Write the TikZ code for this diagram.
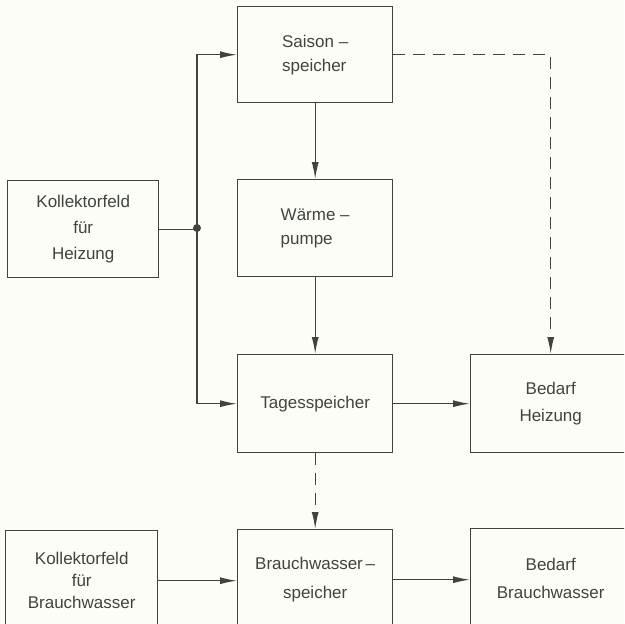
\documentclass[tikz,border=0pt]{standalone}
\usepackage{fontspec}
\setmainfont{Liberation Sans}
\usetikzlibrary{arrows.meta}
\definecolor{ink}{HTML}{3E463C}
\definecolor{paper}{HTML}{FDFDF8}
\begin{document}
\begin{tikzpicture}[x=1pt,y=-1pt,
  box/.style={draw=ink, line width=1.4pt, text=ink, inner sep=0pt, anchor=north west,
              font=\fontsize{17}{24}\selectfont, align=center},
  arr/.style={draw=ink, line width=1.3pt, -{Latex[length=17pt,width=7pt]}},
  ln/.style={draw=ink, line width=1.3pt},
  dsh/.style={dash pattern=on 12pt off 8pt}]
\useasboundingbox (0,0) rectangle (624,624);
\fill[paper] (0,0) rectangle (624,624);
\clip (0,0) rectangle (624,624);

\node[box, minimum width=155pt, minimum height=96pt, align=left] (ss) at (237,6) {Saison –\\speicher};
\node[box, minimum width=155pt, minimum height=97pt, align=left] (wp) at (237,179) {Wärme –\\pumpe};
\node[box, minimum width=155pt, minimum height=98pt] (ts) at (237,354) {Tagesspeicher};
\node[box, minimum width=160pt, minimum height=98pt, font=\fontsize{17}{27}\selectfont] (bh) at (470,354) {Bedarf\\Heizung};
\node[box, minimum width=151pt, minimum height=97pt, font=\fontsize{17}{26}\selectfont] (kh) at (7,180) {Kollektorfeld\\für\\Heizung};
\node[box, minimum width=152pt, minimum height=100pt, font=\fontsize{17}{22}\selectfont] (kb) at (5,530) {Kollektorfeld\\für\\Brauchwasser};
\node[box, minimum width=155pt, minimum height=100pt, font=\fontsize{17}{29}\selectfont] (bw) at (237,529) {Brauchwasser\,–\\speicher};
\node[box, minimum width=160pt, minimum height=100pt, font=\fontsize{17}{28}\selectfont] (bb) at (470,528) {Bedarf\\Brauchwasser};

\coordinate (j) at (197,228);
\draw[ln] (kh.east) -- (kh.east -| j);
\fill[ink] (j) circle (4pt);
\draw[arr] (j) |- (ss.west);
\draw[arr] (j) |- (ts.west);
\draw[arr] (ss.south) -- (ss.south |- wp.north);
\draw[arr] (wp.south) -- (wp.south |- ts.north);
\draw[arr] (ts.east) -- (ts.east -| bh.west);
\draw[arr, dsh] (ss.east) -| (bh.north);
\draw[arr, dsh] (ts.south) -- (ts.south |- bw.north);
\draw[arr] (kb.east) -- (kb.east -| bw.west);
\draw[arr] (bw.east) -- (bw.east -| bb.west);
\end{tikzpicture}
\end{document}
